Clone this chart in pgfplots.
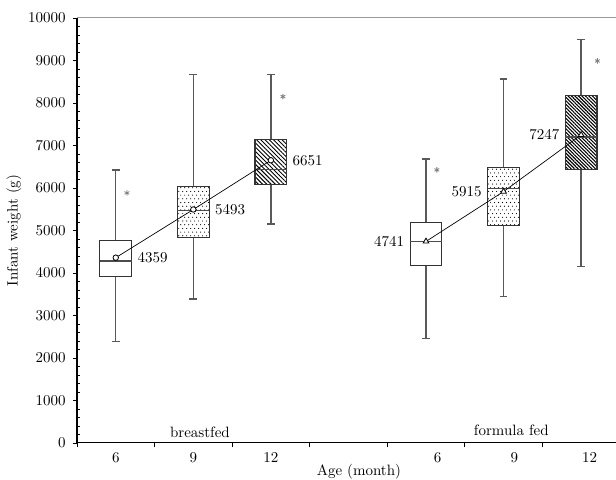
\documentclass[border=0pt,11pt]{standalone}
\usepackage{pgfplots}
\pgfplotsset{compat=1.18}
\usepgfplotslibrary{statistics}
\usetikzlibrary{patterns,patterns.meta}

% staggered dot fill for the 9-month boxes
\pgfdeclarepatternformonly{sdots}{\pgfqpoint{-1pt}{-1pt}}{\pgfqpoint{4pt}{6pt}}{\pgfqpoint{2.9pt}{5.4pt}}{%
  \pgfpathcircle{\pgfqpoint{0pt}{0pt}}{0.42pt}%
  \pgfpathcircle{\pgfqpoint{1.45pt}{2.7pt}}{0.42pt}%
  \pgfusepath{fill}}

\pgfplotsset{
  bx/.style={
    boxplot/draw direction=y,
    boxplot/box extend=0.41,
    boxplot/whisker extend=0.1,
    boxplot/every box/.style={draw=black!80, line width=0.8pt},
    boxplot/every whisker/.style={draw=black!65, line width=1pt},
    boxplot/every median/.style={draw=black!70, line width=0.9pt},
  },
}

\begin{document}
\begin{tikzpicture}
\begin{axis}[
  scale only axis,
  width=393.5pt, height=310.25pt,
  xmin=0, xmax=6.95,
  ymin=0, ymax=10000,
  axis x line=bottom, axis y line=left,
  axis line style={line width=0.8pt, -},
  ytick={0,1000,...,10000},
  scaled y ticks=false,
  yticklabel style={/pgf/number format/fixed, xshift=-1.5pt},
  minor y tick num=4,
  xtick={0,1,...,6},
  xticklabels={},
  extra x ticks={0.5,1.5,2.5,4.65,5.64,6.61},
  extra x tick labels={6,9,12,6,9,12},
  extra x tick style={major tick length=0pt, grid=none, xticklabel style={yshift=-3pt}},
  tick align=outside,
  major tick length=3pt,
  minor tick length=2.2pt,
  minor y tick style={xshift=2.2pt},
  tick style={black, line width=0.6pt},
  /pgf/number format/1000 sep={},
  /pgf/number format/assume math mode=true,
  ylabel={Infant weight (g)},
  xlabel={Age (month)},
  every axis y label/.style={at={(axis description cs:-0.117,0.5)}, rotate=90, anchor=center},
  every axis x label/.style={at={(axis description cs:0.523,-0.068)}, anchor=center},
  clip=false,
]
% breastfed
\addplot[bx, boxplot prepared={draw position=0.5, lower whisker=2384, lower quartile=3914, median=4282, upper quartile=4769, upper whisker=6424},
  boxplot/every box/.append style={fill=white}] coordinates {};
\addplot[bx, boxplot prepared={draw position=1.5, lower whisker=3388, lower quartile=4840, median=5475, upper quartile=6024, upper whisker=8675},
  boxplot/every box/.append style={pattern=sdots}] coordinates {};
\addplot[bx, boxplot prepared={draw position=2.5, lower whisker=5153, lower quartile=6087, median=6440, upper quartile=7145, upper whisker=8675},
  boxplot/every box/.append style={pattern={Lines[angle=-45,distance=2.2pt,line width=0.7pt]}}] coordinates {};
% formula fed
\addplot[bx, boxplot prepared={draw position=4.5, lower whisker=2454, lower quartile=4172, median=4745, upper quartile=5184, upper whisker=6682},
  boxplot/every box/.append style={fill=white}] coordinates {};
\addplot[bx, boxplot prepared={draw position=5.5, lower whisker=3443, lower quartile=5122, median=5992, upper quartile=6478, upper whisker=8565},
  boxplot/every box/.append style={pattern=sdots}] coordinates {};
\addplot[bx, boxplot prepared={draw position=6.5, lower whisker=4149, lower quartile=6424, median=7200, upper quartile=8172, upper whisker=9498},
  boxplot/every box/.append style={pattern={Lines[angle=-45,distance=1.8pt,line width=0.8pt]}}] coordinates {};

% outliers
\addplot[only marks, mark=asterisk, mark size=2pt, black!50, mark options={line width=0.6pt}]
  coordinates {(0.644,5882) (2.655,8149) (4.64,6424) (6.71,8988)};

% means
\addplot[black, line width=0.5pt, mark=*, mark size=2pt, mark options={fill=white, draw=black, line width=0.6pt},
  nodes near coords, point meta=explicit symbolic,
  every node near coord/.style={anchor=west, xshift=12pt, black}]
  coordinates {(0.5,4359)[4359] (1.5,5493)[5493] (2.5,6651)[6651]};
\addplot[black, line width=0.5pt, mark=triangle*, mark size=2.4pt, mark options={fill=white, draw=black, line width=0.6pt},
  nodes near coords, point meta=explicit symbolic,
  every node near coord/.style={anchor=east, xshift=-12pt, black}]
  coordinates {(4.5,4741)[4741] (5.5,5915)[5915] (6.5,7247)[7247]};

\node at (axis cs:1.585,250) {breastfed};
\node at (axis cs:5.6,300) {formula fed};
\draw[black!40, line width=0.8pt] (axis description cs:0,1) -- (axis description cs:1,1);
\end{axis}
\pgfresetboundingbox
\path ([xshift=-56.2pt,yshift=-27pt]current axis.south west) rectangle ([yshift=13.1pt]current axis.north east);
\end{tikzpicture}
\end{document}
